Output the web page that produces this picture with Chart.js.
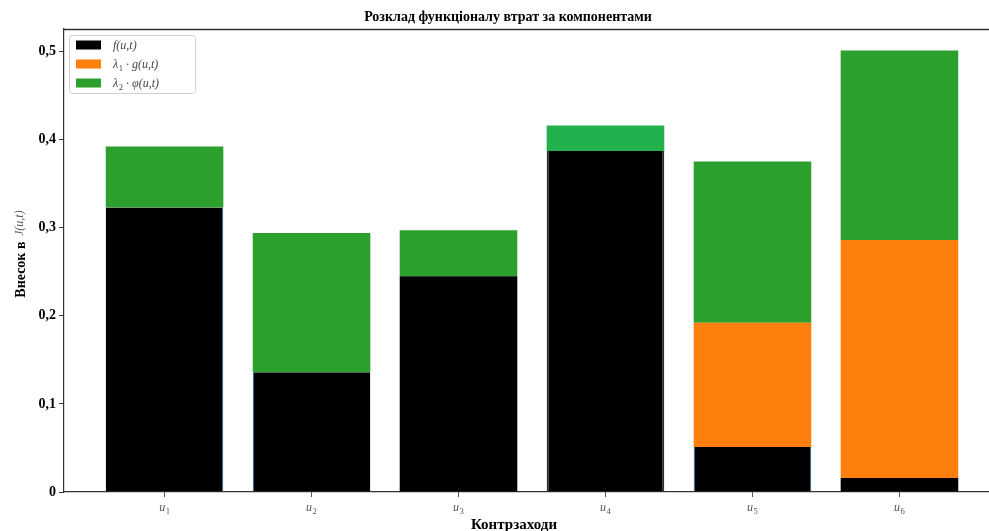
<!DOCTYPE html>
<html>
<head>
<meta charset="utf-8">
<script src="https://cdn.jsdelivr.net/npm/chart.js@4/dist/chart.umd.min.js"></script>
<style>
  html, body { margin: 0; padding: 0; background: #fff; overflow: hidden; }
  #wrap { width: 1000px; height: 531px; }
</style>
</head>
<body>
<div id="wrap"><canvas id="c" width="1000" height="531"></canvas></div>
<script>
// Components of the loss functional for each countermeasure
// ("_n" marks a subscript in the labels below)
const categories = ['u_1', 'u_2', 'u_3', 'u_4', 'u_5', 'u_6'];
const lossF      = [0.323, 0.136, 0.245, 0.387, 0.051, 0.016];
const penaltyG   = [0.000, 0.000, 0.000, 0.000, 0.141, 0.270];
const penaltyPhi = [0.069, 0.158, 0.052, 0.029, 0.183, 0.215];
const seriesLabels = ['f(u,t)', 'λ_1 · g(u,t)', 'λ_2 · φ(u,t)'];
const yTickValues  = [0, 0.1, 0.2, 0.3, 0.4, 0.5];

const chartTitle = 'Розклад функціоналу втрат за компонентами';
const xTitle = 'Контрзаходи';
const yTitleMain = 'Внесок в ';
const yTitleMath = 'J(u,t)';

const SERIF = '"Liberation Serif", "Times New Roman", serif';
const colF = '#000000', colG = '#ff7f0e', colPhi = '#2ca02c';
const phiColors = [colPhi, colPhi, colPhi, '#23b14d', colPhi, colPhi];
const fEdgeColors = ['#1f77b4', '#1f77b4', '#000000', '#2b2b2b', '#1f77b4', '#000000'];
const fEdgeWidths = [{right: 1}, {left: 1}, 0, {left: 2, right: 2, top: 0, bottom: 0}, {left: 1, right: 1}, 0];

const pts = arr => arr.map((v, i) => ({x: i, y: v}));

// Split "a_1 b" into runs of normal and subscript text
function runs(str) {
  const out = [];
  const re = /_(\w)/g;
  let last = 0, m;
  while ((m = re.exec(str)) !== null) {
    if (m.index > last) out.push({ t: str.slice(last, m.index), sub: false });
    out.push({ t: m[1], sub: true });
    last = re.lastIndex;
  }
  if (last < str.length) out.push({ t: str.slice(last), sub: false });
  return out;
}
function mathWidth(ctx, str, size) {
  let w = 0;
  for (const r of runs(str)) {
    ctx.font = (r.sub ? '' : 'italic ') + (r.sub ? size * 0.72 : size) + 'px ' + SERIF;
    w += ctx.measureText(r.t).width + (r.sub ? 0.5 : 0);
  }
  return w;
}
function drawMath(ctx, str, x, y, size, align) {
  let cx = align === 'center' ? x - mathWidth(ctx, str, size) / 2 : x;
  ctx.textAlign = 'left';
  ctx.textBaseline = 'alphabetic';
  for (const r of runs(str)) {
    ctx.font = (r.sub ? '' : 'italic ') + (r.sub ? size * 0.72 : size) + 'px ' + SERIF;
    ctx.fillText(r.t, cx + (r.sub ? 0.5 : 0), y + (r.sub ? size * 0.22 : 0));
    cx += ctx.measureText(r.t).width + (r.sub ? 0.5 : 0);
  }
}

// Title, axis titles, math tick labels, top spine and framed legend
const decorations = {
  id: 'decorations',
  afterDraw(chart) {
    const ctx = chart.ctx, a = chart.chartArea;
    ctx.save();
    // top spine
    ctx.strokeStyle = '#333';
    ctx.lineWidth = 1.5;
    ctx.beginPath();
    ctx.moveTo(a.left, a.top + 0.5);
    ctx.lineTo(a.right, a.top + 0.5);
    ctx.stroke();

    // chart title
    ctx.fillStyle = '#000';
    ctx.font = 'bold 14px ' + SERIF;
    ctx.textAlign = 'center';
    ctx.textBaseline = 'middle';
    ctx.fillText(chartTitle, 508, 17);

    // x axis title
    ctx.font = 'bold 15px ' + SERIF;
    ctx.textBaseline = 'top';
    ctx.fillText(xTitle, 514, 518);

    // x tick labels (u with subscript)
    const xs = chart.scales.x;
    ctx.fillStyle = '#555';
    categories.forEach((c, i) => {
      drawMath(ctx, c, xs.getPixelForValue(i), a.bottom + 19, 12, 'center');
    });

    // y axis title (rotated, mixed fonts)
    ctx.save();
    ctx.translate(21, 255);
    ctx.rotate(-Math.PI / 2);
    ctx.textBaseline = 'middle';
    ctx.textAlign = 'left';
    const fMain = 'bold 14px ' + SERIF, fMath = 'italic 12px ' + SERIF;
    ctx.font = fMain; const w1 = ctx.measureText(yTitleMain).width;
    ctx.font = fMath; const w2 = ctx.measureText(yTitleMath).width;
    const x0 = -(w1 + w2) / 2;
    ctx.font = fMain; ctx.fillStyle = '#000';
    ctx.fillText(yTitleMain, x0, 0);
    ctx.font = fMath; ctx.fillStyle = '#555';
    ctx.fillText(yTitleMath, x0 + w1 + 2, -1);
    ctx.restore();

    // legend
    const lx = a.left + 5.5, ly = a.top + 6.5, lw = 126, lh = 58, r = 3;
    ctx.beginPath();
    ctx.moveTo(lx + r, ly);
    ctx.arcTo(lx + lw, ly, lx + lw, ly + lh, r);
    ctx.arcTo(lx + lw, ly + lh, lx, ly + lh, r);
    ctx.arcTo(lx, ly + lh, lx, ly, r);
    ctx.arcTo(lx, ly, lx + lw, ly, r);
    ctx.closePath();
    ctx.fillStyle = 'rgba(255,255,255,0.85)';
    ctx.fill();
    ctx.strokeStyle = '#d0d0d0';
    ctx.lineWidth = 1;
    ctx.stroke();
    const rows = [16, 35, 54];
    chart.data.datasets.forEach((ds, i) => {
      const cy = a.top + rows[i];
      ctx.fillStyle = ds.legendColor;
      ctx.fillRect(a.left + 12, cy - 4.5, 25, 9);
      ctx.fillStyle = '#444';
      drawMath(ctx, ds.label, a.left + 49, cy + 4, 12, 'left');
    });
    ctx.restore();
  }
};

new Chart(document.getElementById('c'), {
  type: 'bar',
  data: {
    datasets: [
      { label: seriesLabels[0], data: pts(lossF), backgroundColor: colF, legendColor: colF,
        borderColor: fEdgeColors, borderWidth: fEdgeWidths },
      { label: seriesLabels[1], data: pts(penaltyG), backgroundColor: colG, legendColor: colG, borderWidth: 0 },
      { label: seriesLabels[2], data: pts(penaltyPhi), backgroundColor: phiColors, legendColor: colPhi, borderWidth: 0 }
    ]
  },
  options: {
    responsive: false,
    animation: false,
    events: [],
    layout: { padding: { top: 29, left: 0, right: 0, bottom: 0 } },
    datasets: { bar: { barPercentage: 0.8, categoryPercentage: 1.0 } },
    plugins: { legend: { display: false }, title: { display: false }, tooltip: { enabled: false } },
    scales: {
      x: {
        type: 'linear',
        stacked: true,
        offset: false,
        min: -0.684,
        max: 5.684,
        afterFit: s => { s.height = 39; },
        afterBuildTicks: s => { s.ticks = categories.map((_, i) => ({ value: i })); },
        grid: { display: true, drawOnChartArea: false, drawTicks: true, tickLength: 5, color: '#555', offset: false },
        border: { display: true, color: '#333', width: 1.2 },
        ticks: { display: false }
      },
      y: {
        stacked: true,
        min: 0,
        max: 0.5255,
        afterFit: s => { s.width = 64; },
        afterBuildTicks: s => { s.ticks = yTickValues.map(v => ({ value: v })); },
        grid: { display: true, drawOnChartArea: false, drawTicks: true, tickLength: 5, color: '#333' },
        border: { display: true, color: '#333', width: 1.2 },
        ticks: {
          padding: 3,
          color: '#000',
          font: { family: SERIF, size: 14, weight: 'bold' },
          callback: v => v === 0 ? '0' : v.toFixed(1).replace('.', ',')
        }
      }
    }
  },
  plugins: [decorations]
});
</script>
</body>
</html>
